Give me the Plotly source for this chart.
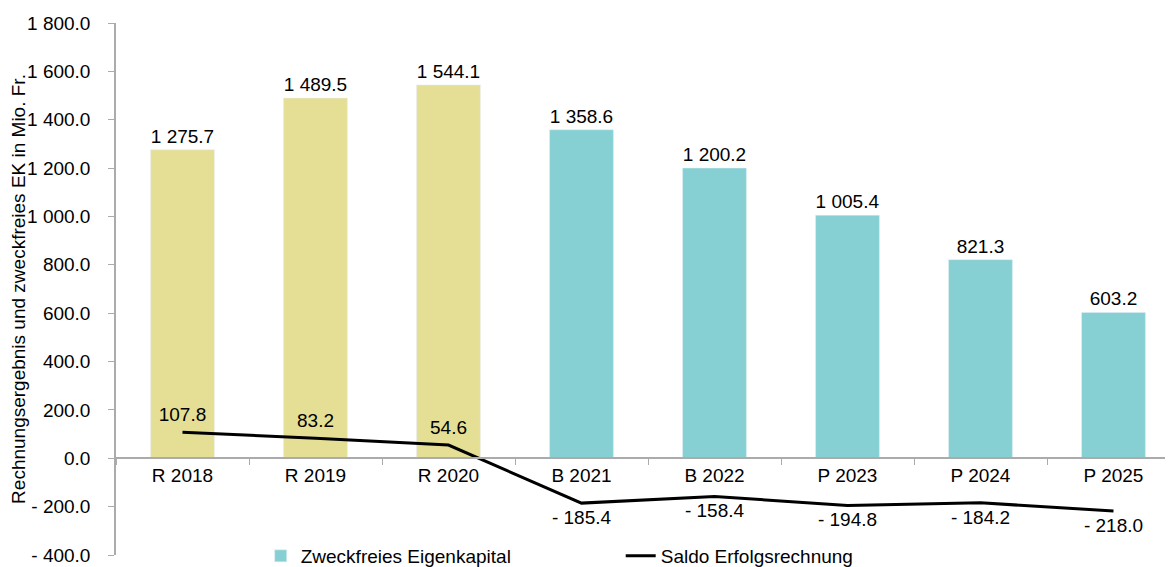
import plotly.graph_objects as go

categories = ["R 2018", "R 2019", "R 2020", "B 2021", "B 2022", "P 2023", "P 2024", "P 2025"]
equity = [1275.7, 1489.5, 1544.1, 1358.6, 1200.2, 1005.4, 821.3, 603.2]
saldo = [107.8, 83.2, 54.6, -185.4, -158.4, -194.8, -184.2, -218.0]
n_actual = 3  # R years drawn in yellow
y_ticks = [-400, -200, 0, 200, 400, 600, 800, 1000, 1200, 1400, 1600, 1800]

YELLOW = "#E5DF95"
TEAL = "#86D0D3"
AXIS = "#ABABAB"
FONT = "Liberation Sans, Arial, sans-serif"
FS = 19


def fmt(v):
    s = f"{abs(v):,.1f}".replace(",", " ")
    return ("- " + s) if v < 0 else s


fig = go.Figure()
fig.add_trace(go.Bar(
    x=categories[:n_actual], y=equity[:n_actual], marker_color=YELLOW,
    text=[fmt(v) for v in equity[:n_actual]], textposition="outside",
    textfont=dict(color="black", size=FS), width=0.48, showlegend=False,
    cliponaxis=False, name="Zweckfreies Eigenkapital R",
))
fig.add_trace(go.Bar(
    x=categories[n_actual:], y=equity[n_actual:], marker_color=TEAL,
    text=[fmt(v) for v in equity[n_actual:]], textposition="outside",
    textfont=dict(color="black", size=FS), width=0.48,
    cliponaxis=False, name="Zweckfreies Eigenkapital",
))
fig.add_trace(go.Scatter(
    x=categories, y=saldo, mode="lines+markers+text",
    line=dict(color="black", width=3),
    marker=dict(size=9, color="rgba(0,0,0,0)"),
    text=[fmt(v) for v in saldo],
    textposition=["top center" if v >= 0 else "bottom center" for v in saldo],
    textfont=dict(color="black", size=FS), cliponaxis=False,
    name="Saldo Erfolgsrechnung",
))

zero_pos = (0 - y_ticks[0]) / (y_ticks[-1] - y_ticks[0])

fig.update_layout(
    width=1173, height=567,
    margin=dict(l=108, r=1, t=15, b=19),
    paper_bgcolor="white", plot_bgcolor="white",
    font=dict(family=FONT, size=FS, color="black"),
    xaxis=dict(
        type="category", range=[-0.5, 7.5], anchor="free", position=zero_pos,
        showline=True, linecolor=AXIS, linewidth=1.5,
        ticks="outside", tickson="boundaries", ticklen=6, tickcolor=AXIS,
        showgrid=False, tickfont=dict(size=FS), automargin=False,
    ),
    yaxis=dict(
        range=[y_ticks[0], y_ticks[-1]], tickvals=y_ticks,
        ticktext=[fmt(v) for v in y_ticks],
        showline=True, linecolor=AXIS, linewidth=1.5,
        ticks="outside", ticklen=6, tickcolor=AXIS, ticklabelstandoff=14,
        showgrid=False, zeroline=False, tickfont=dict(size=FS),
        title=dict(text="Rechnungsergebnis und zweckfreies EK in Mio. Fr.",
                   font=dict(size=19), standoff=4),
        automargin=False,
    ),
    legend=dict(
        orientation="h", x=0.136, xanchor="left", y=0.0, yanchor="middle",
        font=dict(size=FS), bgcolor="rgba(0,0,0,0)", entrywidth=315,
        traceorder="normal",
    ),
)

fig.write_html("out.html")
